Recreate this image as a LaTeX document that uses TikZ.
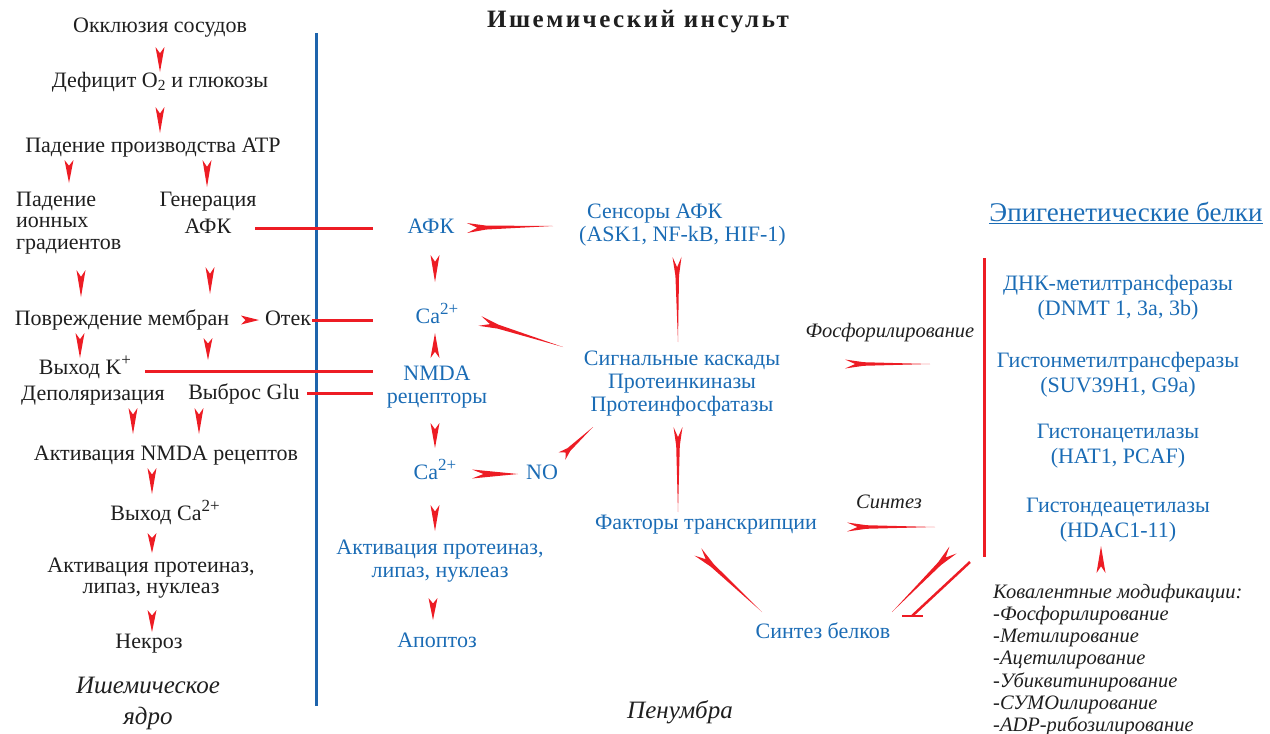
\documentclass[tikz,border=0pt]{standalone}
\usepackage{fontspec}
\setmainfont{Liberation Serif}
\newfontfamily\titlefont{Liberation Serif}[LetterSpace=10]
\usepackage{xcolor}
\definecolor{colorPenumbra}{RGB}{27,108,181}
\definecolor{colorArrow}{RGB}{237,28,36}
\definecolor{colorDivider}{RGB}{30,100,172}
\colorlet{colorCore}{black!88}
\newcommand{\supr}[1]{\raisebox{0.4em}{\fontsize{17}{17}\selectfont #1}}
\usetikzlibrary{calc, positioning}
\tikzset{
  coreText/.style={text=colorCore, align=center, font=\fontsize{22}{21.5}\selectfont},
  penText/.style={text=colorPenumbra, align=center, font=\fontsize{22}{23}\selectfont},
  epiText/.style={penText, font=\fontsize{22}{25}\selectfont},
  one/.style={text height=15pt, text depth=5pt},
  remark/.style={text=colorCore, font=\fontsize{20.5}{22.2}\selectfont\itshape},
  zone/.style={text=colorCore, align=center, font=\fontsize{25}{31}\selectfont\itshape},
  link/.style={draw=colorArrow, line width=3pt},
  inhib/.style={draw=colorArrow, line width=2.5pt},
  divider/.style={draw=colorDivider, line width=3pt},
  tip/.style={draw=none, fill=colorArrow, to path={
      ($(\tikztostart)!#1!90:(\tikztotarget)$) -- (\tikztotarget)
      -- ($(\tikztostart)!#1!-90:(\tikztotarget)$)
      -- ($(\tikztostart)!0.25!(\tikztotarget)$) -- cycle}},
  tip/.default=4.5pt,
  wedge/.style={draw=none, fill=colorArrow, to path={
      ($(\tikztostart)!#1!90:(\tikztotarget)$)
      -- ($(\tikztostart)!0.22!(\tikztotarget)!0.4*#1!90:(\tikztotarget)$)
      -- (\tikztotarget)
      -- ($(\tikztostart)!0.22!(\tikztotarget)!0.4*#1!-90:(\tikztotarget)$)
      -- ($(\tikztostart)!#1!-90:(\tikztotarget)$)
      -- ($(\tikztostart)!0.12!(\tikztotarget)$) -- cycle}},
  wedge/.default=5pt
}

\begin{document}
\begin{tikzpicture}[x=1pt, y=-1pt, inner sep=2pt]
\useasboundingbox (0,0) rectangle (1270,734);
\node[text=colorCore, font={\fontsize{25}{27}\titlefont\bfseries}] (title) at (638,22) {Ишемический инсульт};

\node[coreText, one] (occl) at (160,27) {Окклюзия сосудов};
\node[coreText, one] (defic) at (160,82) {Дефицит O\textsubscript{2} и глюкозы};
\node[coreText, one] (atp) at (153,147) {Падение производства ATP};
\node[coreText, anchor=west, align=left] (ion) at (14,223) {Падение\\ионных\\градиентов};
\node[coreText, one] (gen) at (208,201) {Генерация};
\node[coreText, one] (afkL) at (208,228) {АФК};
\node[coreText, one] (membr) at (122,320) {Повреждение мембран};
\node[coreText, one] (otek) at (288,320) {Отек};
\node[coreText, one] (kout) at (85,369) {Выход K\supr{+}};
\node[coreText, one] (depol) at (93,395) {Деполяризация};
\node[coreText, one] (glu) at (244,394) {Выброс Glu};
\node[coreText, one] (nmdaL) at (166,455) {Активация NMDA рецептов};
\node[coreText, one] (caout) at (165,515) {Выход Ca\supr{2+}};
\node[coreText] (protL) at (151,578) {Активация протеиназ,\\липаз, нуклеаз};
\node[coreText, one] (necr) at (149,643) {Некроз};
\node[zone] (coreLbl) at (148,703) {Ишемическое\\ядро};

\node[penText, one] (afk) at (431,228) {АФК};
\node[penText, one] (ca1) at (437,318) {Ca\supr{2+}};
\node[penText] (nmda) at (437,387) {NMDA\\рецепторы};
\node[penText, one] (ca2) at (435,474) {Ca\supr{2+}};
\node[penText, one] (nitric) at (542,474) {NO};
\node[penText] (protM) at (440,561) {Активация протеиназ,\\липаз, нуклеаз};
\node[penText, one] (apop) at (437,642) {Апоптоз};
\node[penText, anchor=west, align=left] (sens) at (577,225) {\hspace*{8pt}Сенсоры АФК\\(ASK1, NF-kB, HIF-1)};
\node[penText] (casc) at (682,384) {Сигнальные каскады\\Протеинкиназы\\Протеинфосфатазы};
\node[penText, one] (tf) at (706,524) {Факторы транскрипции};
\node[penText, one] (synth) at (823,633) {Синтез белков};
\node[remark] (phos) at (890,333) {Фосфорилирование};
\node[remark] (syn) at (889,502) {Синтез};
\node[zone] (penumbra) at (680,712) {Пенумбра};

\node[penText, font=\fontsize{27}{30}\selectfont] (epi) at (1126,213) {\underline{Эпигенетические белки}};
\node[epiText] (dnmt) at (1118,298) {ДНК-метилтрансферазы\\(DNMT 1, 3a, 3b)};
\node[epiText] (hmt) at (1118,375) {Гистонметилтрансферазы\\(SUV39H1, G9a)};
\node[epiText] (hat) at (1118,446) {Гистонацетилазы\\(HAT1, PCAF)};
\node[epiText] (hdac) at (1118,520) {Гистондеацетилазы\\(HDAC1-11)};
\node[remark, anchor=west, align=left] (cov) at (991,660) {Ковалентные модификации:\\-Фосфорилирование\\-Метилирование\\-Ацетилирование\\-Убиквитинирование\\-СУМОилирование\\-ADP-рибозилирование};

\coordinate (brtop) at (984,258);
\coordinate (brbot) at (984,557);
\coordinate (tbar) at (912,616);

\draw[divider] (316,33) -- (316,706);
\draw[link] (brtop) -- (brbot);

\path[tip] ([yshift=-20pt]occl.center) to ([yshift=10pt]defic.center);
\path[tip] ([yshift=-25pt]defic.center) to ([xshift=7pt,yshift=14pt]atp.center);
\path[tip] ([xshift=-84pt,yshift=-13pt]atp.center) to ([xshift=55pt,yshift=40pt]ion.west);
\path[tip] ([xshift=54pt,yshift=-13pt]atp.center) to ([xshift=-1pt,yshift=14pt]gen.center);
\path[tip] ([xshift=67pt,yshift=-47pt]ion.west) to ([xshift=-41pt,yshift=23pt]membr.center);
\path[tip] ([xshift=2pt,yshift=-39pt]afkL.center) to ([xshift=88pt,yshift=26pt]membr.center);
\path[tip] ([xshift=119pt]membr.center) to ([xshift=-29pt]otek.center);
\path[tip] ([xshift=-42pt,yshift=-13pt]membr.center) to ([xshift=-5pt,yshift=11pt]kout.center);
\path[tip] ([xshift=86pt,yshift=-18pt]membr.center) to ([xshift=-36pt,yshift=34pt]glu.center);
\path[tip] ([xshift=40pt,yshift=-13pt]depol.center) to ([xshift=-33pt,yshift=21pt]nmdaL.center);
\path[tip] ([xshift=-45pt,yshift=-14pt]glu.center) to ([xshift=33pt,yshift=21pt]nmdaL.center);
\path[tip] ([xshift=-14pt,yshift=-13pt]nmdaL.center) to ([xshift=-13pt,yshift=21pt]caout.center);
\path[tip] ([xshift=-13pt,yshift=-18pt]caout.center) to ([xshift=1pt,yshift=25pt]protL.center);
\path[tip] ([xshift=1pt,yshift=-32pt]protL.center) to ([xshift=3pt,yshift=11pt]necr.center);

\draw[link] ([xshift=47pt]afkL.center) -- ([xshift=-58pt]afk.center);
\draw[link] ([xshift=24pt]otek.center) -- ([xshift=-64pt,yshift=-2pt]ca1.center);
\draw[link] ([xshift=60pt,yshift=-2pt]kout.center) -- ([xshift=-64pt,yshift=16pt]nmda.center);
\draw[link] ([xshift=63pt,yshift=1pt]glu.center) -- ([xshift=-64pt,yshift=-6pt]nmda.center);

\path[tip] ([xshift=4pt,yshift=-27pt]afk.center) to ([xshift=-2pt,yshift=36pt]ca1.center);
\path[tip] ([xshift=-2pt,yshift=29pt]nmda.center) to ([xshift=-2pt,yshift=-15pt]ca1.center);
\path[tip] ([xshift=-2pt,yshift=-36pt]nmda.center) to ([yshift=26pt]ca2.center);
\path[tip] ([xshift=37pt]ca2.center) to ([xshift=-24pt]nitric.center);
\path[tip] ([yshift=-31pt]ca2.center) to ([xshift=-5pt,yshift=30pt]protM.center);
\path[tip] ([xshift=-7pt,yshift=-37pt]protM.center) to ([xshift=-4pt,yshift=22pt]apop.center);

\path[wedge] ([xshift=36pt]afk.center) to ([xshift=-24pt,yshift=-1pt]sens.west);
\path[wedge=4.5pt] ([xshift=100pt,yshift=-32pt]sens.west) to ([xshift=-4pt,yshift=42pt]casc.center);
\path[wedge] ([xshift=43pt,yshift=-3pt]ca1.center) to ([xshift=-119pt,yshift=37pt]casc.center);
\path[wedge] ([xshift=20pt,yshift=18pt]nitric.center) to ([xshift=-89pt,yshift=-43pt]casc.center);
\path[wedge=4.5pt] ([xshift=-4pt,yshift=-43pt]casc.center) to ([xshift=-28pt,yshift=12pt]tf.center);
\path[wedge=4.5pt] ([xshift=163pt,yshift=20pt]casc.center) to ([xshift=-188pt,yshift=11pt]hmt.center);
\path[wedge=4.5pt] ([xshift=141pt,yshift=-3pt]tf.center) to ([xshift=-183pt,yshift=-7pt]hdac.center);
\path[wedge] ([xshift=-8pt,yshift=-28pt]tf.center) to ([xshift=-61pt,yshift=21pt]synth.center);
\path[wedge] ([xshift=-31pt,yshift=7pt]brbot) to ([xshift=69pt,yshift=21pt]synth.center);
\draw[inhib] ([xshift=-14pt,yshift=-5pt]brbot) -- (tbar);
\draw[inhib] ([xshift=-10pt]tbar) -- ([xshift=11pt]tbar);
\path[tip] ([xshift=110pt,yshift=87pt]cov.west) to ([xshift=-17pt,yshift=-26pt]hdac.center);
\end{tikzpicture}
\end{document}
